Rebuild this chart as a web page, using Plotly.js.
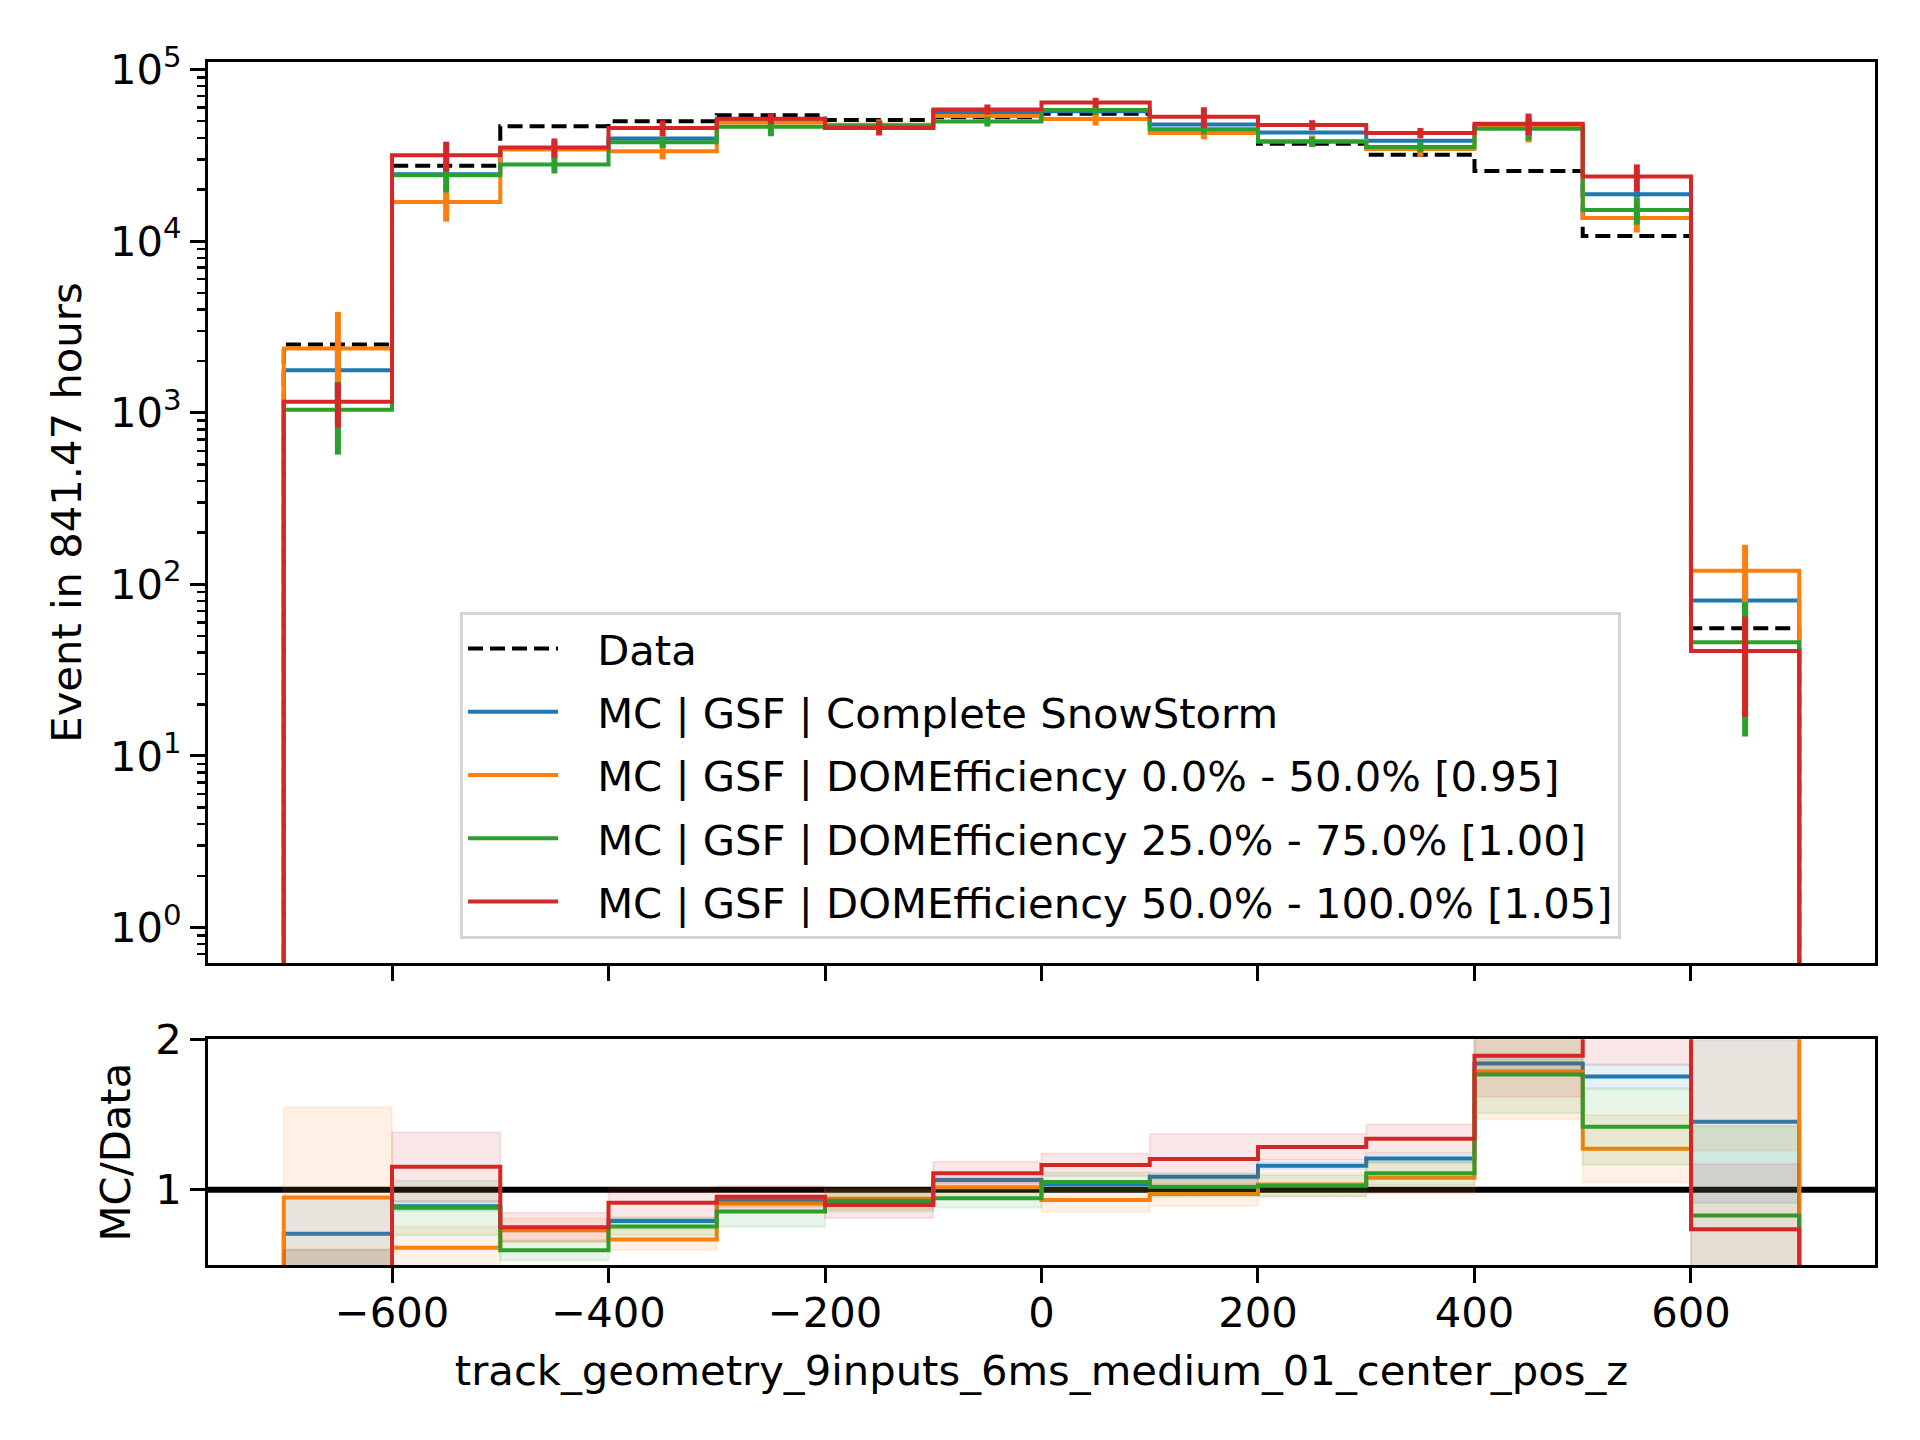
<!DOCTYPE html>
<html>
<head>
<meta charset="utf-8">
<script src="https://cdn.plot.ly/plotly-3.0.1.min.js"></script>
<style>
html,body{margin:0;padding:0;background:#ffffff;}
#chart{width:1920px;height:1440px;}
</style>
</head>
<body>
<div id="chart"></div>
<script>
// ---------------- data ----------------
const binEdges = [-700, -600, -500, -400, -300, -200, -100, 0, 100, 200, 300, 400, 500, 600, 700];

const dataCounts = [2500, 27500, 46800, 50000, 54200, 50800, 52800, 55200, 44000, 37000, 31900, 25600, 10700, 55.5];

const mcComplete    = [1770, 24500, 34600, 39650, 50400, 46200, 56200, 57200, 47800, 42900, 38500, 47050, 18750, 80.6];
const mcCompleteErr = [600, 900, 900, 900, 1000, 1000, 1000, 1000, 1000, 900, 900, 1100, 830, 30];

const mcDom095    = [2370, 16900, 34200, 33450, 49200, 47750, 53700, 51450, 42750, 38300, 34450, 45700, 13620, 120];
const mcDom095Err = [1500, 3900, 3700, 3500, 3000, 3500, 3000, 4300, 3500, 3000, 3400, 8100, 2400, 50];

const mcDom100    = [1040, 24200, 28000, 37750, 46350, 47050, 49850, 58050, 44900, 38000, 35400, 45200, 15180, 46];
const mcDom100Err = [470, 5000, 3200, 2800, 5500, 3500, 3300, 3500, 3000, 2600, 2500, 6600, 2700, 33];

const mcDom105    = [1160, 31700, 35150, 45700, 51700, 45650, 58600, 64300, 53000, 47500, 42700, 48400, 23800, 40.9];
const mcDom105Err = [340, 6300, 4500, 4900, 3700, 4400, 4000, 4200, 7300, 3200, 3000, 7000, 4200, 24];

const seriesNames = [
  "MC | GSF | Complete SnowStorm",
  "MC | GSF | DOMEfficiency 0.0% - 50.0% [0.95]",
  "MC | GSF | DOMEfficiency 25.0% - 75.0% [1.00]",
  "MC | GSF | DOMEfficiency 50.0% - 100.0% [1.05]"
];
const dataName = "Data";
const xTickVals = [-600, -400, -200, 0, 200, 400, 600];
const yTickVals = [1, 10, 100, 1000, 10000, 100000];
const yTickText = ["10<sup>0</sup>", "10<sup>1</sup>", "10<sup>2</sup>", "10<sup>3</sup>", "10<sup>4</sup>", "10<sup>5</sup>"];
const xTitle = "track_geometry_9inputs_6ms_medium_01_center_pos_z";
const yTitle = "Event in 841.47 hours";
const ratioTitle = "MC/Data";

// ---------------- styling ----------------
const colors = ["#1f77b4", "#ff7f0e", "#2ca02c", "#d62728"];
const bandColors = ["rgba(31,119,180,0.11)", "rgba(255,127,14,0.11)", "rgba(44,160,44,0.11)", "rgba(214,39,40,0.11)"];
const FONT = "DejaVu Sans, Liberation Sans, sans-serif";
const FS = 41.7;
const LEGEND_PAD = "\u2002\u00a0"; // gap between legend line sample and label

const mcVals = [mcComplete, mcDom095, mcDom100, mcDom105];
const mcErrs = [mcCompleteErr, mcDom095Err, mcDom100Err, mcDom105Err];

function stepXY(vals, floor) {
  const x = [binEdges[0]], y = [floor];
  for (let i = 0; i < vals.length; i++) { x.push(binEdges[i]); y.push(vals[i]); }
  x.push(binEdges[binEdges.length - 1], binEdges[binEdges.length - 1]);
  y.push(vals[vals.length - 1], floor);
  return {x, y};
}
function bandXY(lo, hi) {
  const x = [], y = [];
  for (let i = 0; i < hi.length; i++) { x.push(binEdges[i], binEdges[i + 1]); y.push(hi[i], hi[i]); }
  for (let i = lo.length - 1; i >= 0; i--) { x.push(binEdges[i + 1], binEdges[i]); y.push(lo[i], lo[i]); }
  x.push(x[0]); y.push(y[0]);
  return {x, y};
}
const centers = dataCounts.map((_, i) => (binEdges[i] + binEdges[i + 1]) / 2);

const traces = [];
// Data (dashed)
const ds = stepXY(dataCounts, 1e-3);
traces.push({
  x: ds.x, y: ds.y, type: "scatter", mode: "lines", line: {shape: "hv", color: "#000000", width: 4, dash: "15px,7px"},
  name: LEGEND_PAD + dataName, legendgroup: "g0", xaxis: "x", yaxis: "y", hoverinfo: "skip"
});
// MC steps + error bars
for (let k = 0; k < 4; k++) {
  const s = stepXY(mcVals[k], 1e-3);
  traces.push({
    x: s.x, y: s.y, type: "scatter", mode: "lines", line: {shape: "hv", color: colors[k], width: 4},
    name: LEGEND_PAD + seriesNames[k], legendgroup: "g" + (k + 1), xaxis: "x", yaxis: "y", hoverinfo: "skip"
  });
  traces.push({
    x: centers, y: mcVals[k], type: "scatter", mode: "markers", marker: {size: 1, opacity: 0, color: colors[k]},
    error_y: {type: "data", array: mcErrs[k], visible: true, color: colors[k], thickness: 6, width: 0},
    showlegend: false, legendgroup: "g" + (k + 1), xaxis: "x", yaxis: "y", hoverinfo: "skip"
  });
}
// Ratio panel
for (let k = 0; k < 4; k++) {
  const r = mcVals[k].map((v, i) => v / dataCounts[i]);
  const re = mcErrs[k].map((e, i) => e / dataCounts[i]);
  const b = bandXY(r.map((v, i) => v - re[i]), r.map((v, i) => v + re[i]));
  traces.push({
    x: b.x, y: b.y, type: "scatter", mode: "lines", fill: "toself", fillcolor: bandColors[k],
    line: {color: bandColors[k], width: 2}, showlegend: false, legendgroup: "g" + (k + 1),
    xaxis: "x2", yaxis: "y2", hoverinfo: "skip"
  });
  const s = stepXY(r, 0);
  traces.push({
    x: s.x, y: s.y, type: "scatter", mode: "lines", line: {shape: "hv", color: colors[k], width: 4},
    showlegend: false, legendgroup: "g" + (k + 1), xaxis: "x2", yaxis: "y2", hoverinfo: "skip"
  });
}

// minor log ticks
const minorVals = [];
for (let p = -1; p <= 5; p++) for (let m = 2; m <= 9; m++) minorVals.push(m * Math.pow(10, p));

const axisCommon = {
  showgrid: false, zeroline: false, showline: true, linecolor: "#000000", linewidth: 3, mirror: true,
  ticks: "outside", ticklen: 15, tickwidth: 3, tickcolor: "#000000", automargin: false,
  tickfont: {family: FONT, size: FS, color: "#000000"}
};

const layout = {
  width: 1920, height: 1440,
  margin: {l: 208, r: 45, t: 62, b: 175},
  paper_bgcolor: "#ffffff", plot_bgcolor: "#ffffff",
  font: {family: FONT, size: FS, color: "#000000"},
  showlegend: true,
  legend: {
    x: 0.1512, y: 0.5428, xanchor: "left", yanchor: "top",
    bgcolor: "rgba(255,255,255,0.8)", bordercolor: "#d4d4d4", borderwidth: 3,
    font: {family: FONT, size: FS, color: "#000000"},
    traceorder: "grouped", tracegroupgap: 6, itemwidth: 90
  },
  xaxis: Object.assign({}, axisCommon, {
    domain: [0, 1], anchor: "y", range: [-770, 770], tickmode: "array", tickvals: xTickVals, showticklabels: false
  }),
  yaxis: Object.assign({}, axisCommon, {
    domain: [0.251, 1], anchor: "x", type: "log", range: [-0.207, 5.044],
    tickmode: "array", tickvals: yTickVals, ticktext: yTickText,
    minor: {tickmode: "array", tickvals: minorVals, ticks: "outside", ticklen: 8, tickwidth: 2.5, tickcolor: "#000000", showgrid: false},
    title: {text: yTitle, font: {family: FONT, size: FS, color: "#000000"}, standoff: 16}
  }),
  xaxis2: Object.assign({}, axisCommon, {
    domain: [0, 1], anchor: "y2", range: [-770, 770], tickmode: "array", tickvals: xTickVals,
    ticklabelstandoff: -6,
    title: {text: xTitle, font: {family: FONT, size: FS, color: "#000000"}, standoff: 20}
  }),
  yaxis2: Object.assign({}, axisCommon, {
    domain: [0, 0.1877], anchor: "x2", range: [0.5, 2], tickmode: "array", tickvals: [1, 2], ticktext: ["1", "2"],
    title: {text: ratioTitle, font: {family: FONT, size: FS, color: "#000000"}, standoff: 12}
  }),
  shapes: [{
    type: "line", layer: "below", xref: "x2 domain", x0: 0, x1: 1, yref: "y2", y0: 1, y1: 1,
    line: {color: "#000000", width: 6}
  }]
};

Plotly.newPlot("chart", traces, layout, {staticPlot: true, displayModeBar: false});
</script>
</body>
</html>
